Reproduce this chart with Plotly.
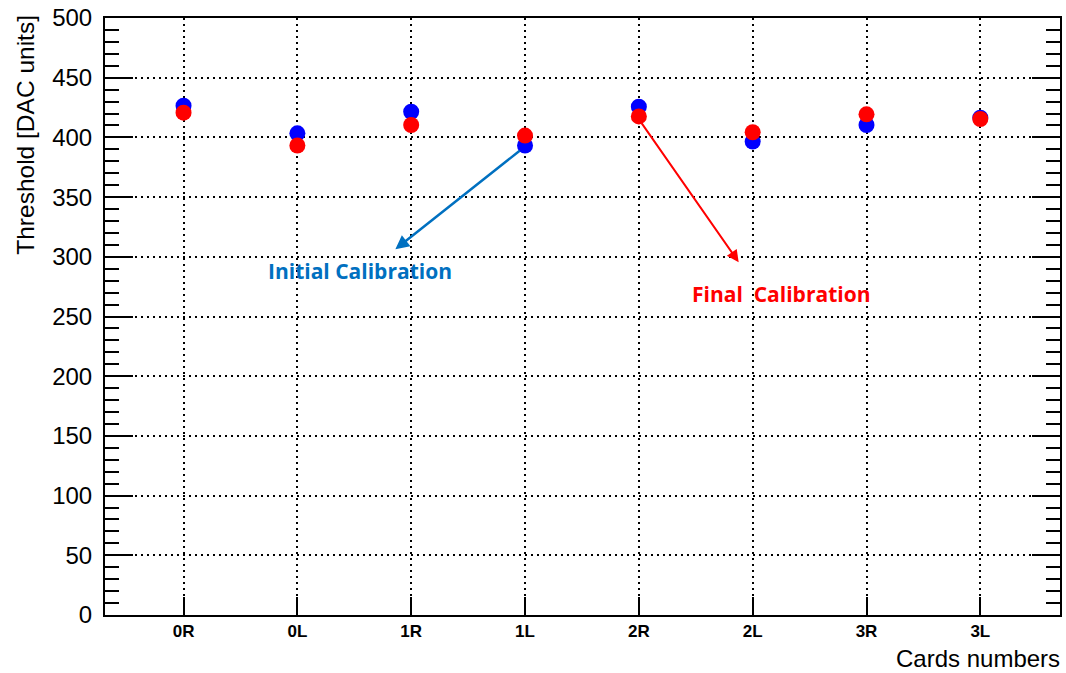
import plotly.graph_objects as go

cards = ["0R", "0L", "1R", "1L", "2R", "2L", "3R", "3L"]
initial_cal = [426.5, 403.4, 421.5, 393.2, 425.7, 396.5, 410.4, 416.5]
final_cal = [420.7, 393.2, 410.4, 401.5, 417.6, 404.3, 419.3, 415.4]

x_idx = list(range(len(cards)))

fig = go.Figure()
fig.add_trace(go.Scatter(x=x_idx, y=initial_cal, mode="markers", name="Initial Calibration",
                         marker=dict(color="#0000FF", size=16, line=dict(width=0))))
fig.add_trace(go.Scatter(x=x_idx, y=final_cal, mode="markers", name="Final Calibration",
                         marker=dict(color="#FF0000", size=16, line=dict(width=0))))

font_main = "Liberation Sans, Arial, Helvetica, sans-serif"

fig.update_layout(
    width=1066, height=673,
    margin=dict(l=105, r=4, t=16, b=58),
    plot_bgcolor="white", paper_bgcolor="white",
    showlegend=False,
    font=dict(family=font_main, color="black"),
)

fig.update_xaxes(
    range=[-0.69, 7.70],
    tickmode="array", tickvals=x_idx, ticktext=[f"<b>{c}</b>" for c in cards],
    tickfont=dict(size=17, family=font_main),
    ticks="inside", ticklen=18, tickwidth=2, tickcolor="black",
    showline=True, linewidth=2, linecolor="black", mirror=True,
    showgrid=True, gridcolor="black", gridwidth=1.5, griddash="2px,4px",
    zeroline=False,
)
fig.update_yaxes(
    range=[0, 500], tickmode="linear", tick0=0, dtick=50,
    tickfont=dict(size=24, family=font_main),
    ticks="inside", ticklen=28, tickwidth=2, tickcolor="black",
    minor=dict(dtick=10, ticks="inside", ticklen=14, tickwidth=2, tickcolor="black", showgrid=False),
    showline=True, linewidth=2, linecolor="black", mirror="allticks",
    showgrid=True, gridcolor="black", gridwidth=1.5, griddash="2px,4px",
    zeroline=False, ticklabelstandoff=6,
)

# axis titles
fig.add_annotation(text="Threshold [DAC units]", xref="paper", yref="paper",
                   x=-105/957 + 9/957, y=1 + 5/599, xanchor="left", yanchor="top",
                   textangle=-90, showarrow=False, font=dict(size=24.5, family=font_main))
fig.add_annotation(text="Cards numbers", xref="paper", yref="paper",
                   x=1 + 2/957, y=-28/599, xanchor="right", yanchor="top",
                   showarrow=False, font=dict(size=24, family=font_main))

# arrows
fig.add_annotation(x=1.861, y=306.3, ax=2.966, ay=389.8, xref="x", yref="y", axref="x", ayref="y",
                   text="", showarrow=True, arrowhead=2, arrowsize=1.1, arrowwidth=2.5,
                   arrowcolor="#0070C0")
fig.add_annotation(x=4.877, y=295.5, ax=4.015, ay=413.2, xref="x", yref="y", axref="x", ayref="y",
                   text="", showarrow=True, arrowhead=2, arrowsize=1.2, arrowwidth=2,
                   arrowcolor="#FF0000")

# labels
fig.add_annotation(x=1.554, y=288, xref="x", yref="y", text="<b>Initial Calibration</b>",
                   showarrow=False, font=dict(size=21, color="#0070C0", family="Open Sans, sans-serif"))
fig.add_annotation(x=5.246, y=268.8, xref="x", yref="y", text="<b>Final\u00a0 Calibration</b>",
                   showarrow=False, font=dict(size=21, color="#FF0000", family="Open Sans, sans-serif"))

fig.write_html("out.html", config={"displayModeBar": False},
               post_script="document.body.style.margin='0';document.body.style.overflow='hidden';")
